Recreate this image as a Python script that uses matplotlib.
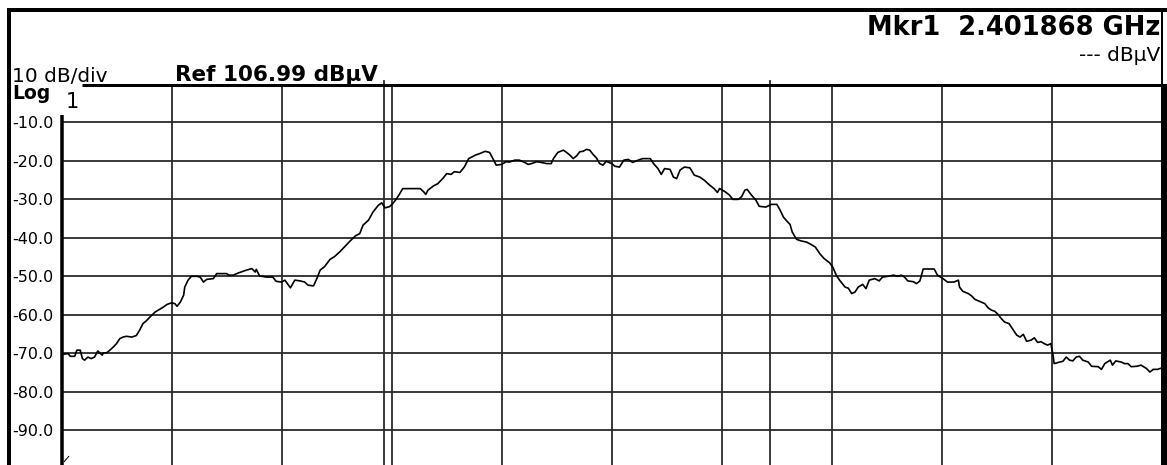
import matplotlib
matplotlib.use("Agg")
import matplotlib.pyplot as plt
from matplotlib.lines import Line2D

# Trace: x in divisions (0..10), level in dB
freq_div = [
    0.00, 0.06, 0.08, 0.12, 0.14, 0.17, 0.19, 0.21, 0.24, 0.27, 0.30, 0.33, 0.37, 0.38,
    0.41, 0.44, 0.47, 0.50, 0.53, 0.56, 0.59, 0.64, 0.68, 0.71, 0.74, 0.77, 0.80, 0.85,
    0.89, 0.92, 0.96, 1.00, 1.03, 1.05, 1.08, 1.11, 1.12, 1.15, 1.18, 1.23, 1.26, 1.29,
    1.32, 1.38, 1.41, 1.50, 1.52, 1.56, 1.61, 1.68, 1.73, 1.76, 1.77, 1.80, 1.86, 1.92,
    1.95, 2.00, 2.03, 2.08, 2.12, 2.17, 2.21, 2.24, 2.29, 2.32, 2.35, 2.39, 2.44, 2.48,
    2.53, 2.57, 2.62, 2.67, 2.71, 2.74, 2.79, 2.83, 2.88, 2.91, 2.94, 2.98, 3.01, 3.04,
    3.07, 3.10, 3.17, 3.26, 3.29, 3.31, 3.33, 3.38, 3.42, 3.47, 3.50, 3.54, 3.57, 3.62,
    3.66, 3.70, 3.76, 3.80, 3.85, 3.89, 3.92, 3.95, 4.00, 4.04, 4.07, 4.12, 4.16, 4.21,
    4.24, 4.27, 4.32, 4.36, 4.41, 4.45, 4.47, 4.51, 4.56, 4.59, 4.62, 4.65, 4.68, 4.71,
    4.74, 4.77, 4.80, 4.83, 4.86, 4.89, 4.92, 4.95, 5.00, 5.03, 5.07, 5.11, 5.15, 5.19,
    5.24, 5.28, 5.35, 5.38, 5.42, 5.45, 5.48, 5.53, 5.56, 5.59, 5.62, 5.66, 5.71, 5.75,
    5.80, 5.84, 5.89, 5.93, 5.96, 5.98, 6.03, 6.07, 6.10, 6.15, 6.18, 6.21, 6.23, 6.27,
    6.31, 6.34, 6.40, 6.45, 6.50, 6.53, 6.56, 6.59, 6.62, 6.64, 6.68, 6.72, 6.77, 6.81,
    6.85, 6.89, 6.93, 6.98, 7.01, 7.04, 7.07, 7.12, 7.15, 7.18, 7.21, 7.24, 7.28, 7.31,
    7.34, 7.39, 7.43, 7.46, 7.51, 7.56, 7.60, 7.63, 7.66, 7.69, 7.74, 7.77, 7.80, 7.83,
    7.89, 7.93, 7.96, 8.01, 8.05, 8.11, 8.15, 8.16, 8.19, 8.24, 8.27, 8.30, 8.34, 8.39,
    8.42, 8.45, 8.48, 8.51, 8.54, 8.57, 8.61, 8.64, 8.68, 8.71, 8.74, 8.77, 8.81, 8.84,
    8.87, 8.90, 8.93, 8.96, 8.99, 9.01, 9.02, 9.07, 9.10, 9.13, 9.16, 9.19, 9.22, 9.25,
    9.28, 9.33, 9.36, 9.42, 9.45, 9.48, 9.53, 9.55, 9.58, 9.63, 9.66, 9.69, 9.72, 9.77,
    9.81, 9.86, 9.89, 9.92, 9.96, 10.00,
]
level_db = [
    -70.3, -70.1, -70.8, -70.8, -69.2, -69.2, -71.4, -71.8, -71.0, -71.4, -71.0, -69.4, -70.5, -69.9,
    -69.9, -69.2, -68.4, -67.5, -66.2, -65.8, -65.6, -65.8, -65.4, -64.0, -62.3, -61.6, -60.7, -59.3,
    -58.6, -58.1, -57.3, -56.9, -57.1, -57.8, -56.7, -54.9, -52.8, -51.0, -50.0, -50.0, -50.2, -51.5,
    -50.8, -50.6, -49.3, -49.3, -49.7, -49.7, -49.1, -48.4, -48.0, -48.9, -48.2, -49.9, -50.2, -50.2,
    -51.3, -51.5, -51.0, -53.0, -51.0, -51.2, -51.5, -52.3, -52.5, -50.6, -48.4, -47.5, -45.6, -44.9,
    -43.6, -42.4, -40.9, -39.5, -38.9, -36.7, -35.4, -33.3, -31.5, -30.9, -32.2, -31.9, -31.1, -30.0,
    -28.7, -27.2, -27.2, -27.2, -28.0, -28.7, -27.6, -26.5, -25.9, -24.4, -23.3, -23.5, -22.8, -23.0,
    -21.6, -19.4, -18.5, -18.1, -17.5, -17.8, -19.4, -21.1, -20.9, -20.2, -20.3, -19.8, -19.8, -20.4,
    -20.9, -20.7, -20.2, -20.4, -20.7, -20.7, -19.4, -17.8, -17.2, -17.8, -18.5, -19.4, -18.7, -17.6,
    -17.5, -17.0, -17.2, -18.3, -19.2, -20.7, -21.1, -20.1, -20.7, -21.4, -21.6, -19.8, -19.6, -20.4,
    -19.8, -19.4, -19.4, -20.7, -22.0, -23.5, -22.0, -22.2, -24.2, -24.6, -22.4, -21.6, -21.8, -23.7,
    -24.2, -25.0, -26.3, -27.2, -28.2, -27.2, -28.0, -28.9, -30.0, -30.0, -29.3, -27.6, -27.4, -28.9,
    -30.2, -31.8, -32.0, -31.3, -31.3, -32.8, -34.6, -35.6, -36.5, -38.5, -40.4, -40.8, -41.1, -41.7,
    -42.4, -44.1, -45.4, -46.5, -47.7, -49.7, -51.0, -52.8, -53.1, -54.5, -54.1, -52.8, -52.1, -53.2,
    -51.0, -50.6, -51.2, -50.2, -50.0, -49.7, -50.0, -49.7, -50.2, -51.2, -51.4, -51.9, -51.2, -48.1,
    -48.1, -48.1, -49.7, -50.6, -51.5, -51.5, -51.0, -52.8, -53.9, -54.5, -55.1, -56.0, -56.5, -57.1,
    -58.2, -58.8, -59.1, -59.9, -61.0, -61.9, -62.3, -63.6, -65.3, -65.8, -65.1, -66.9, -66.6, -66.0,
    -67.2, -67.0, -67.5, -67.9, -67.5, -70.5, -72.7, -72.3, -72.1, -71.0, -71.8, -72.0, -71.0, -70.8,
    -71.8, -72.3, -73.4, -73.5, -74.2, -72.7, -71.8, -73.1, -72.0, -72.3, -72.7, -72.7, -73.5, -73.4,
    -73.1, -74.0, -74.9, -74.2, -74.2, -73.8,
]

y_ticks = [-10, -20, -30, -40, -50, -60, -70, -80, -90]
y_tick_labels = ["-10.0", "-20.0", "-30.0", "-40.0", "-50.0", "-60.0", "-70.0", "-80.0", "-90.0"]
display_lines = [2.93, 6.44]

W, H = 1167, 465
fig = plt.figure(figsize=(W / 100, H / 100), dpi=100)


def fline(x0, y0, x1, y1, lw_px, color="black"):
    # line in pixel coords of the figure (origin top-left)
    fig.add_artist(Line2D([x0 / W, x1 / W], [1 - y0 / H, 1 - y1 / H],
                          transform=fig.transFigure, lw=lw_px * 0.72,
                          color=color, solid_capstyle="butt"))


# plot area: 0 dB at y=84 px, 10 dB = 38.46 px
x_left, x_right, y_top = 61.5, 1162.0, 84.0
y_bot = y_top + 384.6
ax = fig.add_axes([x_left / W, 1 - y_bot / H, (x_right - x_left) / W, (y_bot - y_top) / H])
ax.set_xlim(0, 10)
ax.set_ylim(-100, 0)

ax.set_xticks(range(1, 10))
ax.set_yticks(y_ticks)
ax.set_yticklabels(y_tick_labels, fontsize=11.5)
ax.tick_params(axis="both", length=0)
ax.tick_params(axis="y", pad=6)
ax.tick_params(axis="x", labelbottom=False)
ax.grid(True, color="#2a2a2a", lw=1.3)
for s in ax.spines.values():
    s.set_visible(False)

for xd in display_lines:
    ax.axvline(xd, ymin=0, ymax=1.008, color="#2a2a2a", lw=1.3, clip_on=False)

ax.plot(freq_div, level_db, color="black", lw=1.2)

# frame lines
fline(7, 10.5, W, 10.5, 4)
fline(9, 8.5, 9, H, 4)
fline(1162, 10, 1162, 86, 2)
fline(81.5, 85.5, W, 85.5, 3)
fline(62, 115, 62, H, 3.5)
fline(1163.5, 84, 1163.5, H, 7)
fline(64, 462, 69, 456, 1)

# header texts
fig.text(1160 / W, 1 - 35 / H, "Mkr1  2.401868 GHz", ha="right", va="baseline",
         fontsize=18.5, fontweight="bold")
fig.text(1160 / W, 1 - 61 / H, "--- dBµV", ha="right", va="baseline", fontsize=14.5)
fig.text(12 / W, 1 - 81.5 / H, "10 dB/div", ha="left", va="baseline", fontsize=14.5)
fig.text(175 / W, 1 - 81 / H, "Ref 106.99 dBµV", ha="left", va="baseline",
         fontsize=15.5, fontweight="bold")
fig.text(12 / W, 1 - 99 / H, "Log", ha="left", va="baseline", fontsize=13.5, fontweight="bold")
fig.text(66 / W, 1 - 108 / H, "1", ha="left", va="baseline", fontsize=15)

fig.savefig("out.png", dpi=100)
